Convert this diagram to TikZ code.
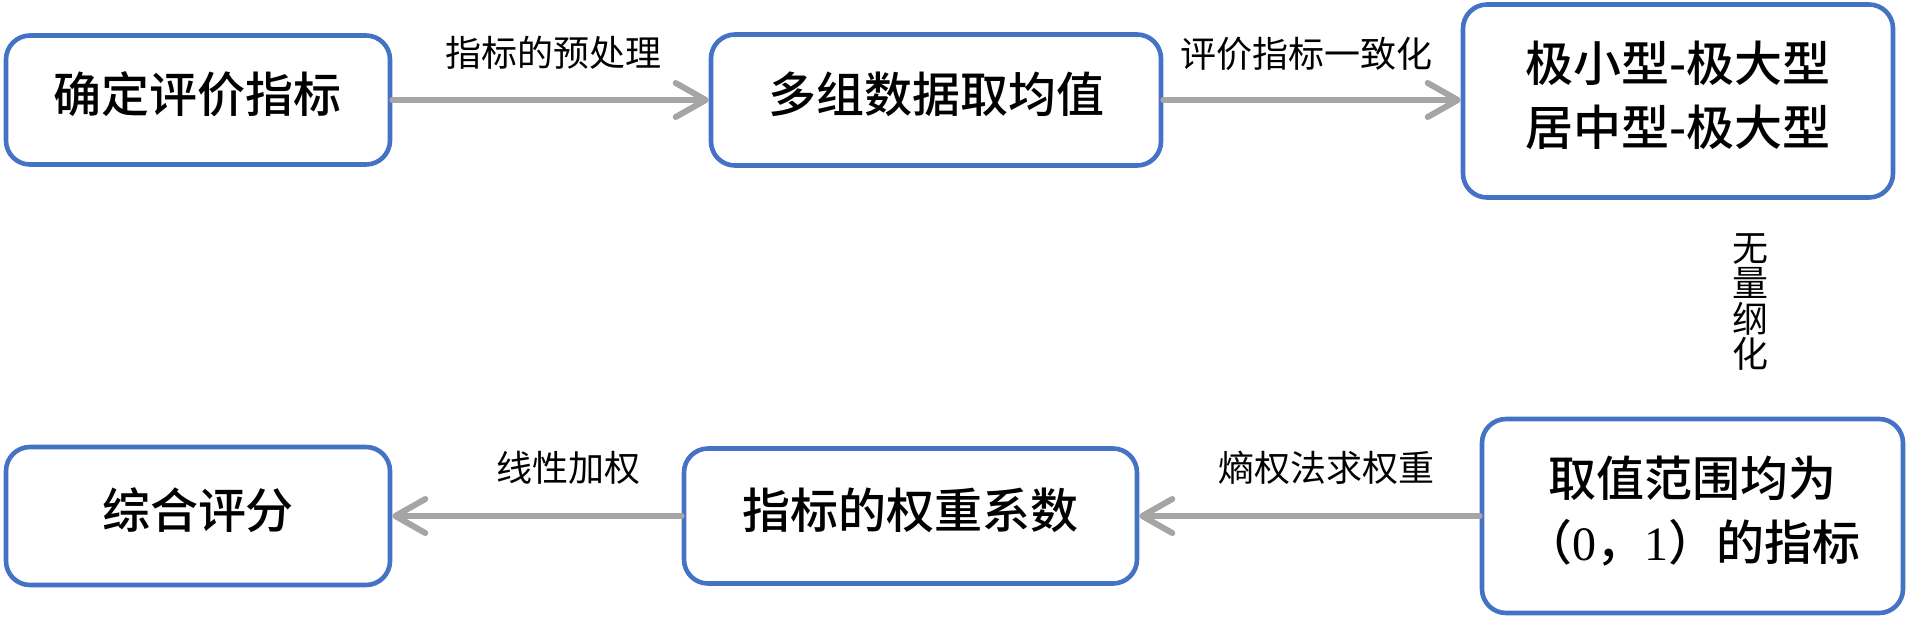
\documentclass[tikz,border=0pt]{standalone}
\usepackage{fontspec}
\usepackage{tikz}
\usetikzlibrary{arrows.meta,positioning}
\newfontfamily\hei{Noto Sans CJK SC}
\newfontfamily\heim{Noto Sans CJK SC Medium}
\newfontfamily\tnr{Liberation Serif}
\definecolor{khung}{HTML}{4472C4}
\definecolor{muiten}{HTML}{A5A5A5}
\newcommand{\lift}[1]{\raisebox{6pt}{\begin{tabular}{@{}c@{}}#1\end{tabular}}}

\begin{document}
\begin{tikzpicture}[x=0.5pt, y=-0.5pt,
    box/.style={draw=khung, line width=2.3pt, rounded corners=12pt, fill=white, inner sep=0pt, font=\heim\fontsize{24}{32}\selectfont},
    flow/.style={draw=muiten, line width=3pt, line cap=round, -{Straight Barb[length=15pt, width=17pt, round]}},
    lab/.style={font=\hei\fontsize{18}{17.7}\selectfont, inner sep=0pt}]
      \useasboundingbox (0,0) rectangle (1908,618);

      % 上排三个框
      \node[box, minimum width=192pt, minimum height=64.5pt] (b1) at (198,100) {\lift{确定评价指标}};
      \node[box, minimum width=225pt, minimum height=65.5pt] (b2) at (936,100) {\lift{多组数据取均值}};
      \node[box, minimum width=215pt, minimum height=96.5pt] (b3) at (1678,101) {\lift{极小型-极大型\\居中型-极大型}};

      % 下排三个框
      \node[box, minimum width=192pt, minimum height=69pt] (b4) at (198,516) {\lift{综合评分}};
      \node[box, minimum width=226.5pt, minimum height=67.5pt] (b5) at (910.5,516) {\lift{指标的权重系数}};
      \node[box, minimum width=210.5pt, minimum height=97pt] (b6) at (1692.5,516) {\lift{取值范围均为\\（{\tnr 0}，{\tnr 1}）的指标}};

      % 箭头与说明
      \draw[flow] (b1) -- node[lab, pos=0.51, yshift=23.5pt] (l1) {指标的预处理} (b2);
      \draw[flow] (b2) -- node[lab, pos=0.48, yshift=23pt] (l2) {评价指标一致化} (b3.west |- b2);
      \draw[flow] (b6) -- node[lab, pos=0.45, yshift=24pt] (l3) {熵权法求权重} (b5);
      \draw[flow] (b5) -- node[lab, pos=0.39, yshift=24pt] (l4) {线性加权} (b4);
      \node[lab, align=center] (l5) at (1750,302) {无\\量\\纲\\化};
    \end{tikzpicture}
\end{document}
